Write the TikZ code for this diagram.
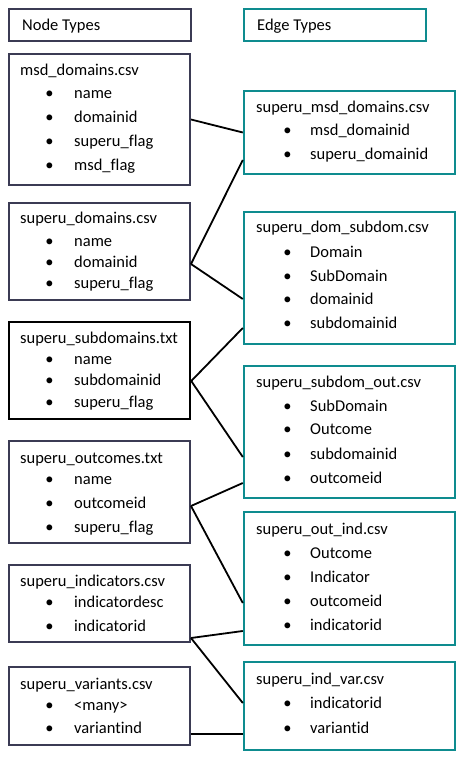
\documentclass[tikz,border=0pt]{standalone}
\usepackage{fontspec}
\setmainfont{Carlito}[Ligatures={NoCommon}]
\definecolor{slate}{RGB}{59,59,84}
\definecolor{tealb}{RGB}{14,140,143}
\tikzset{
  lbox/.style={draw=slate, line width=2pt, rectangle, inner sep=0pt, minimum width=181pt},
  kbox/.style={draw=black, line width=2.5pt, rectangle, inner sep=0pt, minimum width=181pt},
  rbox/.style={draw=tealb, line width=2.4pt, rectangle, inner sep=0pt, minimum width=211pt},
  txt/.style={anchor=base west, inner sep=0pt, font=\fontsize{16.5}{20}\selectfont},
  bul/.style={anchor=base, inner sep=0pt, font=\fontsize{16.5}{20}\selectfont},
  link/.style={line width=1.8pt, draw=black}
}
\newcommand{\itemL}[3]{%
  \node[bul] (#1b) at (49.5,#2) {•};
  \node[txt] (#1) at (74,#2) {#3};}
\newcommand{\itemR}[3]{%
  \node[bul] (#1b) at (287.5,#2) {•};
  \node[txt] (#1) at (310,#2) {#3};}
\begin{document}
\begin{tikzpicture}[x=1pt,y=-1pt]
\useasboundingbox (0,0) rectangle (472,767);
% left boxes
\node[lbox, minimum width=182pt, minimum height=32pt] (nt) at (100,25) {};
\node[lbox, minimum height=131pt] (msd) at (99.5,119.5) {};
\node[lbox, minimum height=97pt] (dom) at (99.5,251.5) {};
\node[kbox, minimum height=97pt] (sub) at (99.5,370.5) {};
\node[lbox, minimum height=102pt] (out) at (99.5,492) {};
\node[lbox, minimum height=77pt] (ind) at (99.5,603.5) {};
\node[lbox, minimum height=78pt] (var) at (99.5,706) {};
% right boxes
\node[rbox, minimum width=182pt, minimum height=32pt] (et) at (335,25) {};
\node[rbox, minimum height=83pt] (msde) at (349.5,132.5) {};
\node[rbox, minimum height=132pt] (dsd) at (349.5,278) {};
\node[rbox, minimum height=132pt] (sdo) at (349.5,432) {};
\node[rbox, minimum height=133pt] (oi) at (349.5,578.5) {};
\node[rbox, minimum height=88pt] (iv) at (349.5,706) {};
% texts left
\node[txt] (ntt) at (22,31) {Node Types};
\node[txt] (msdt) at (20,76) {msd\_domains.csv};
\itemL{msda}{99}{name}
\itemL{msdb}{123}{domainid}
\itemL{msdc}{147}{superu\_flag}
\itemL{msdd}{171}{msd\_flag}
\node[txt] (domt) at (20,223) {superu\_domains.csv};
\itemL{doma}{246}{name}
\itemL{domb}{267}{domainid}
\itemL{domc}{288}{superu\_flag}
\node[txt] (subt) at (20,343) {superu\_subdomains.txt};
\itemL{suba}{364}{name}
\itemL{subb}{385}{subdomainid}
\itemL{subc}{407}{superu\_flag}
\node[txt] (outt) at (20,463) {superu\_outcomes.txt};
\itemL{outa}{484}{name}
\itemL{outb}{508}{outcomeid}
\itemL{outc}{532}{superu\_flag}
\node[txt] (indt) at (20,586) {superu\_indicators.csv};
\itemL{inda}{607}{indicatordesc}
\itemL{indb}{631}{indicatorid}
\node[txt] (vart) at (20,689) {superu\_variants.csv};
\itemL{vara}{710}{<many>}
\itemL{varb}{733}{variantind}
% texts right
\node[txt] (ett) at (257,31) {Edge Types};
\node[txt] (msdet) at (256,113) {superu\_msd\_domains.csv};
\itemR{msdea}{136}{msd\_domainid}
\itemR{msdeb}{160}{superu\_domainid}
\node[txt] (dsdt) at (256,233) {superu\_dom\_subdom.csv};
\itemR{dsda}{257}{Domain}
\itemR{dsdb}{281}{SubDomain}
\itemR{dsdc}{304}{domainid}
\itemR{dsdd}{328}{subdomainid}
\node[txt] (sdot) at (256,387) {superu\_subdom\_out.csv};
\itemR{sdoa}{411}{SubDomain}
\itemR{sdob}{434}{Outcome}
\itemR{sdoc}{459}{subdomainid}
\itemR{sdod}{483}{outcomeid}
\node[txt] (oit) at (256,534) {superu\_out\_ind.csv};
\itemR{oia}{558}{Outcome}
\itemR{oib}{582}{Indicator}
\itemR{oic}{606}{outcomeid}
\itemR{oid}{630}{indicatorid}
\node[txt] (ivt) at (256,684) {superu\_ind\_var.csv};
\itemR{iva}{708}{indicatorid}
\itemR{ivb}{733}{variantid}
% connectors
\draw[link] (msd.east) -- (msde.west);
\draw[link] (dom.east |- 0,264) -- (msde.west |- 0,160);
\draw[link] (dom.east |- 0,264) -- (dsd.west |- 0,299);
\draw[link] (sub.east |- 0,381) -- (dsd.west |- 0,328);
\draw[link] (sub.east |- 0,381) -- (sdo.west |- 0,457);
\draw[link] (out.east |- 0,506) -- (sdo.west |- 0,483);
\draw[link] (out.east |- 0,506) -- (oi.west |- 0,603);
\draw[link] (ind.east |- 0,638) -- (oi.west |- 0,631);
\draw[link] (ind.east |- 0,638) -- (iv.west |- 0,703);
\draw[link] (var.east |- 0,734) -- (iv.west |- 0,734);
\end{tikzpicture}
\end{document}
